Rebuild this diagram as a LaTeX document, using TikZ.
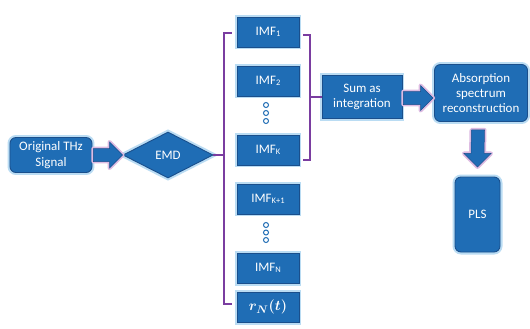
\documentclass[tikz,border=0pt]{standalone}
\usepackage{fontspec}
\usepackage{bm}
\setmainfont{Carlito}
\usetikzlibrary{shapes.geometric,calc}
\definecolor{boxblue}{HTML}{1F6DB5}
\definecolor{boxedge}{HTML}{1A4F8C}
\definecolor{glowblue}{HTML}{BADCF3}
\definecolor{glowpink}{HTML}{DDBBE2}
\definecolor{brkt}{HTML}{7A3DA0}
\newcommand{\sbs}[1]{\raisebox{-0.6pt}{\fontsize{8.5}{9}\selectfont #1}}
\begin{document}
\begin{tikzpicture}[x=1bp,y=-1bp,
  box/.style={draw=boxedge, line width=0.9pt, fill=boxblue, text=white,
    font=\fontsize{13}{15.5}\selectfont, align=center, inner sep=0pt,
    preaction={draw=glowblue, line width=5pt}},
  rbox/.style={box, rounded corners=6bp},
  imfbox/.style={box, minimum width=62bp, minimum height=30bp},
  barrow/.style={draw=boxedge, line width=0.5pt, fill=boxblue, line join=miter,
    preaction={draw=glowpink, line width=4pt, line join=round}},
  bracket/.style={draw=brkt, line width=1.3pt},
  dot/.style={circle, draw=boxblue, line width=1pt, fill=white, inner sep=0pt, minimum size=5bp}
]
\fill[white] (0,0) rectangle (530,328);
\useasboundingbox (0,0) rectangle (530,328);

% main chain
\node[rbox, minimum width=82bp, minimum height=35bp] (sig) at (51,155) {Original THz\\Signal};
\node[box, diamond, minimum width=90bp, minimum height=46bp] (emd) at (168,155) {EMD};
% block arrow sig -> emd
\path[barrow] ($(sig.east)+(1,-6.5)$) -- ($(emd.west)+(-13,-6.5)$) -- ($(emd.west)+(-13,-13)$)
  -- (emd.west) -- ($(emd.west)+(-13,13)$) -- ($(emd.west)+(-13,6.5)$) -- ($(sig.east)+(1,6.5)$) -- cycle;

% IMF column
\node[imfbox] (imf1) at (268,32) {IMF\sbs{1}};
\node[imfbox] (imf2) at (268,81) {IMF\sbs{2}};
\node[dot] (d1) at (266,105) {};
\node[dot] (d2) at (266,113) {};
\node[dot] (d3) at (266,121) {};
\node[imfbox] (imfk) at (268,150) {IMF\sbs{K}};
\node[imfbox] (imfk1) at (268,199) {IMF\sbs{K+1}};
\node[dot] (d4) at (266,225) {};
\node[dot] (d5) at (266,232.5) {};
\node[dot] (d6) at (266,240) {};
\node[imfbox] (imfn) at (268,268) {IMF\sbs{N}};
\node[imfbox, font=\fontsize{15}{17}\selectfont] (rn) at (268,307) {$\bm{r_N(t)}$};

% left bracket
\coordinate (lbt) at (224,33);
\coordinate (lbb) at (224,304);
\draw[bracket] (lbt -| imf1.west) ++(-5bp,0) -- (lbt) -- (lbb) -- ([xshift=-5bp]lbb -| rn.west);
\draw[bracket] (emd.east) -- (emd.east -| lbt);

% right bracket
\coordinate (rbt) at (310,35);
\coordinate (rbb) at (310,160);
\node[box, minimum width=80bp, minimum height=43bp] (sum) at (362,97) {Sum as\\integration};
\draw[bracket] ([xshift=4bp]rbt -| imf1.east) -- (rbt) -- (rbb) -- ([xshift=4bp]rbb -| imfk.east);
\draw[bracket] (rbt |- sum.west) -- (sum.west);

% right part
\node[rbox, minimum width=93bp, minimum height=57bp] (abs) at (481,93) {Absorption\\spectrum\\reconstruction};
\node[rbox, minimum width=45bp, minimum height=75bp] (pls) at (477.5,214.5) {PLS};
% block arrow sum -> abs
\coordinate (s2) at ($(sum.east)+(1,1)$);
\coordinate (e2) at ($(abs.west |- s2)+(-1,0)$);
\path[barrow] ($(s2)+(0,-6.5)$) -- ($(e2)+(-12.5,-6.5)$) -- ($(e2)+(-12.5,-12.5)$)
  -- (e2) -- ($(e2)+(-12.5,12.5)$) -- ($(e2)+(-12.5,6.5)$) -- ($(s2)+(0,6.5)$) -- cycle;
% block arrow abs -> pls
\coordinate (s3) at ($(abs.south)+(-3,8)$);
\coordinate (e3) at ($(pls.north |- s3)+(0,37)$);
\path[barrow] ($(s3)+(-6.5,0)$) -- ($(e3)+(-6.5,-13.5)$) -- ($(e3)+(-13.5,-13.5)$)
  -- (e3) -- ($(e3)+(13.5,-13.5)$) -- ($(e3)+(6.5,-13.5)$) -- ($(s3)+(6.5,0)$) -- cycle;
\end{tikzpicture}
\end{document}
